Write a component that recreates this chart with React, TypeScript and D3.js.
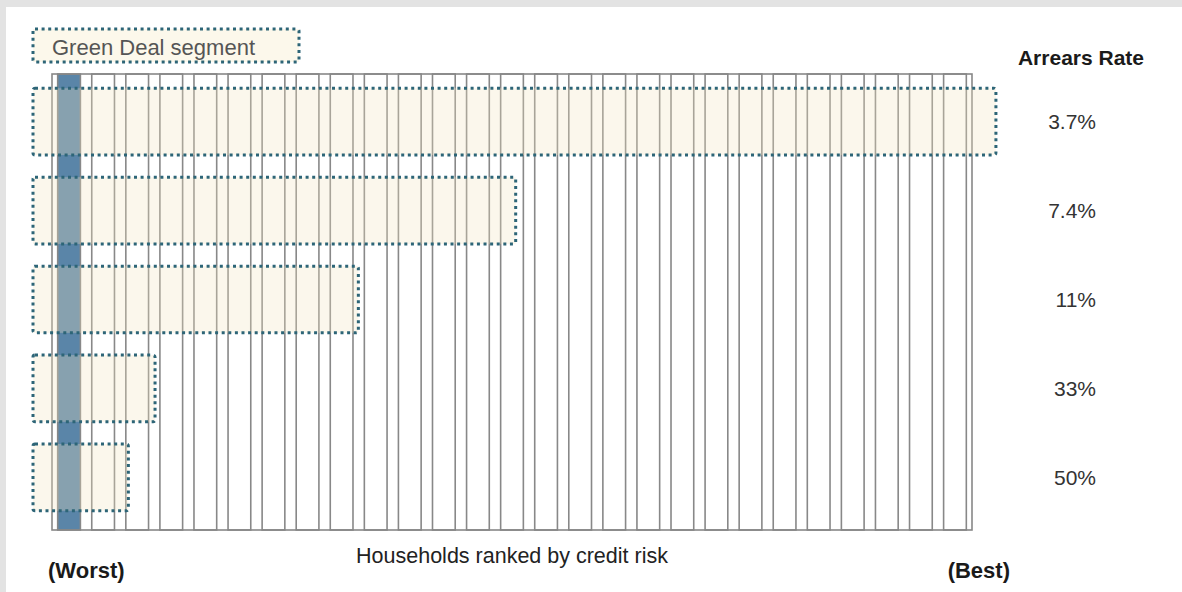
import React from "react";
import * as d3 from "d3";

// Households ranked by credit risk, worst (left) to best (right)
const households: number[] = d3.range(27);
const worstHousehold = 0;

// Green Deal segment rows: how far each segment reaches across the ranking
// (share of the ranked households) and the arrears rate in that segment
const segmentRows = ["All", "Half", "Third", "Ninth", "Worst"];
const segmentReach = [1.026, 0.504, 0.333, 0.112, 0.083];
const arrearsRate = ["3.7%", "7.4%", "11%", "33%", "50%"];

const legendLabel = "Green Deal segment";
const rateTitle = "Arrears Rate";
const axisTitle = "Households ranked by credit risk";
const worstLabel = "(Worst)";
const bestLabel = "(Best)";

const W = 1182;
const H = 592;
const plot = { left: 52, right: 972, top: 74, bottom: 530 };
const FONT = "'Liberation Sans', Arial, sans-serif";

export default function App() {
  const xBand = d3
    .scaleBand<number>()
    .domain(households)
    .range([plot.left, plot.right])
    .paddingInner(1 / 3)
    .paddingOuter(1 / 6);

  const xReach = d3.scaleLinear().domain([0, 1]).range([plot.left, plot.right]);

  const yRow = d3
    .scaleBand<string>()
    .domain(segmentRows)
    .range([66, 533])
    .padding(0.25);

  const segLeft = xReach(0) - 19;
  const dotted = {
    fill: "none",
    stroke: "#2d6577",
    strokeWidth: 3,
    strokeDasharray: "3 3.6",
  };

  return (
    <svg
      width={W}
      height={H}
      style={{ position: "absolute", left: 0, top: 0, display: "block" }}
      fontFamily={FONT}
    >
      <rect x={0} y={0} width={W} height={H} fill="#e3e3e3" />
      <rect x={6} y={7} width={W - 6} height={H - 7} fill="#ffffff" />

      {/* legend */}
      <rect x={33} y={29} width={266} height={33} fill="#fcf8eb" />
      <rect x={33} y={29} width={266} height={33} rx={2} {...dotted} />
      <text x={52} y={55} fontSize={22} fill="#555555">
        {legendLabel}
      </text>

      {/* household columns */}
      {households.map((h) => (
        <rect
          key={h}
          x={xBand(h)}
          y={plot.top}
          width={xBand.bandwidth()}
          height={plot.bottom - plot.top}
          fill={h === worstHousehold ? "#5a85a8" : "#ffffff"}
          stroke="#888888"
          strokeWidth={1.6}
        />
      ))}
      <rect
        x={plot.left}
        y={plot.top}
        width={plot.right - plot.left}
        height={plot.bottom - plot.top}
        fill="none"
        stroke="#888888"
        strokeWidth={1.6}
      />

      {/* segments */}
      {segmentRows.map((r, i) => {
        const y = yRow(r)!;
        const w = xReach(segmentReach[i]) - segLeft;
        return (
          <g key={r}>
            <rect
              x={segLeft}
              y={y}
              width={w}
              height={yRow.bandwidth()}
              fill="#f2e6c0"
              fillOpacity={0.3}
            />
            <rect x={segLeft} y={y} width={w} height={yRow.bandwidth()} rx={2} {...dotted} />
            <text
              x={1096}
              y={y + yRow.bandwidth() / 2}
              dy="0.36em"
              textAnchor="end"
              fontSize={21}
              fill="#333333"
            >
              {arrearsRate[i]}
            </text>
          </g>
        );
      })}

      <text x={1081} y={65} textAnchor="middle" fontSize={21} fontWeight="bold" fill="#1a1a1a">
        {rateTitle}
      </text>
      <text
        x={(plot.left + plot.right) / 2}
        y={563}
        textAnchor="middle"
        fontSize={21.5}
        fill="#222222"
      >
        {axisTitle}
      </text>
      <text x={48} y={578} fontSize={22} fontWeight="bold" fill="#1a1a1a">
        {worstLabel}
      </text>
      <text x={1010} y={578} textAnchor="end" fontSize={22} fontWeight="bold" fill="#1a1a1a">
        {bestLabel}
      </text>
    </svg>
  );
}
